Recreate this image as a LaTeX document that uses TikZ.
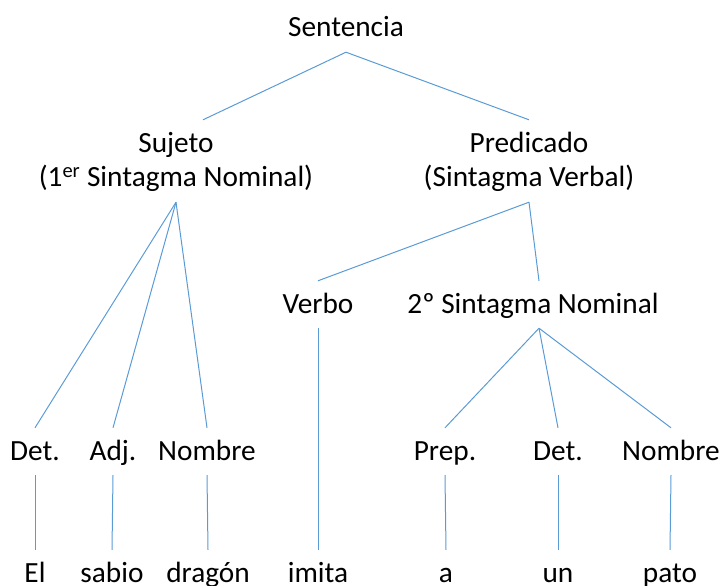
\documentclass[tikz,border=0pt]{standalone}
\usepackage{fontspec}
\setmainfont{Carlito}
\definecolor{treeline}{HTML}{5B9BD5}

\begin{document}
\begin{tikzpicture}[
  x=1pt,
  y=-1pt,
  every node/.style={font=\fontsize{29.3}{35}\selectfont, anchor=base,
    inner xsep=0pt, inner ysep=6pt, text height=26pt, text depth=9pt},
  twoline/.style={text depth=44pt},
  branch/.style={draw=treeline, line width=1pt}
]
  \useasboundingbox (0,0) rectangle (721,586);

  \node (sent) at (346,37) {Sentencia};
  \node[twoline] (suj) at (176,152) {\begin{tabular}[t]{@{}c@{}}Sujeto\\(1\textsuperscript{er} Sintagma Nominal)\end{tabular}};
  \node[twoline] (pred) at (529,152) {\begin{tabular}[t]{@{}c@{}}Predicado\\(Sintagma Verbal)\end{tabular}};
  \node (verbo) at (318,313) {Verbo};
  \node (snom) at (533,313) {2º Sintagma Nominal};

  \node (det1) at (35,460) {Det.};
  \node (adj) at (113,460) {Adj.};
  \node (nom1) at (207,460) {Nombre};
  \node (prep) at (445,460) {Prep.};
  \node (det2) at (558,460) {Det.};
  \node (nom2) at (671,460) {Nombre};

  \node (el) at (35,582) {El};
  \node (sabio) at (112,582) {sabio};
  \node (dragon) at (208,582) {dragón};
  \node (imita) at (318,582) {imita};
  \node (a) at (446,582) {a};
  \node (un) at (558,582) {un};
  \node (pato) at (670,582) {pato};

  \draw[branch] (sent.south) -- ([xshift=27pt]suj.north);
  \draw[branch] (sent.south) -- (pred.north);
  \draw[branch] (suj.south) -- (det1.north);
  \draw[branch] (suj.south) -- (adj.north);
  \draw[branch] (suj.south) -- (nom1.north);
  \draw[branch] (pred.south) -- (verbo.north);
  \draw[branch] (pred.south) -- ([xshift=6pt]snom.north);
  \draw[branch] ([xshift=6pt]snom.south) -- (prep.north);
  \draw[branch] ([xshift=6pt]snom.south) -- (det2.north);
  \draw[branch] ([xshift=6pt]snom.south) -- (nom2.north);

  \draw[branch] (det1.south) -- (el.north);
  \draw[branch] (adj.south) -- (sabio.north);
  \draw[branch] (nom1.south) -- (dragon.north);
  \draw[branch] (verbo.south) -- (imita.north);
  \draw[branch] (prep.south) -- (a.north);
  \draw[branch] (det2.south) -- (un.north);
  \draw[branch] (nom2.south) -- (pato.north);
\end{tikzpicture}
\end{document}
